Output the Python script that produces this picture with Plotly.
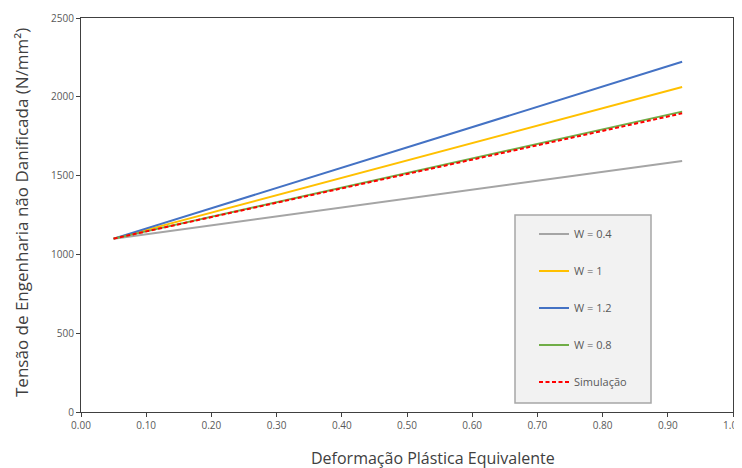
import plotly.graph_objects as go

# Data
x_strain = [0.05, 0.922]
w04 = [1100, 1593]
w1 = [1100, 2062]
w12 = [1100, 2222]
w08 = [1100, 1906]
simulacao = [1100, 1895]

series_names = ["W = 0.4", "W = 1", "W = 1.2", "W = 0.8", "Simulação"]
x_ticks = [0.0, 0.1, 0.2, 0.3, 0.4, 0.5, 0.6, 0.7, 0.8, 0.9, 1.0]
y_ticks = [0, 500, 1000, 1500, 2000, 2500]

# page body has an 8px default margin
OFF = 8
W, H = 742 - OFF, 468 - OFF
L, R, T = 81 - OFF, 9, 18 - OFF
B = H - (412 - OFF)
pw, ph = W - L - R, H - T - B

FONT = "Open Sans"
TXT = "#595959"

fig = go.Figure()
styles = [
    ("#A5A5A5", "solid"),
    ("#FFC000", "solid"),
    ("#4472C4", "solid"),
    ("#70AD47", "solid"),
    ("#FF0000", "4px,2.5px"),
]
for i, (name, ys) in enumerate(zip(series_names, [w04, w1, w12, w08, simulacao])):
    c, d = styles[i]
    fig.add_trace(go.Scatter(
        x=x_strain, y=ys, mode="lines", name=name,
        line=dict(color=c, width=2, dash=d),
        legendgroup=f"g{i}",
    ))

def px2x(p):  # page pixel -> paper x
    return (p - OFF - L) / pw

def py2y(p):  # page pixel -> paper y
    return (H - B - (p - OFF)) / ph

fig.add_shape(type="rect", xref="paper", yref="paper",
              x0=px2x(515), x1=px2x(651), y0=py2y(403), y1=py2y(215),
              fillcolor="#F2F2F2", line=dict(color="#A6A6A6", width=1.5),
              layer="below")

fig.add_annotation(text="Deformação Plástica Equivalente", xref="paper", yref="paper",
                   x=px2x(433), y=py2y(458), xanchor="center", yanchor="middle",
                   showarrow=False, font=dict(family=FONT, size=16, color="#404040"))
fig.add_annotation(text="Tensão de Engenharia não Danificada (N/mm²)", xref="paper", yref="paper",
                   x=px2x(21), y=py2y(213), xanchor="center", yanchor="middle", textangle=-90,
                   showarrow=False, font=dict(family=FONT, size=17, color="#404040"))

fig.update_layout(
    width=W, height=H,
    margin=dict(l=L, r=R, t=T, b=B, pad=0, autoexpand=False),
    paper_bgcolor="white", plot_bgcolor="white",
    font=dict(family=FONT, color=TXT, size=10),
    showlegend=True,
    legend=dict(
        x=px2x(534), y=py2y(219.5), xanchor="left", yanchor="top",
        bgcolor="rgba(0,0,0,0)", borderwidth=0,
        font=dict(family=FONT, size=11, color=TXT),
        traceorder="grouped", tracegroupgap=18, itemwidth=30,
    ),
    xaxis=dict(
        range=[0, 1], tickvals=x_ticks, tickformat=".2f", automargin=False,
        ticklabeloverflow="allow",
        showgrid=False, zeroline=False,
        showline=True, linecolor="#404040", linewidth=1.2, mirror=True,
        ticks="outside", ticklen=4, tickcolor="#404040",
        tickfont=dict(family=FONT, size=10, color=TXT),
    ),
    yaxis=dict(
        range=[0, 2500], tickvals=y_ticks, automargin=False,
        showgrid=False, zeroline=False,
        showline=True, linecolor="#404040", linewidth=1.2, mirror=True,
        ticks="outside", ticklen=4, tickcolor="#404040",
        tickfont=dict(family=FONT, size=10, color=TXT),
    ),
)

fig.write_html("out.html")
